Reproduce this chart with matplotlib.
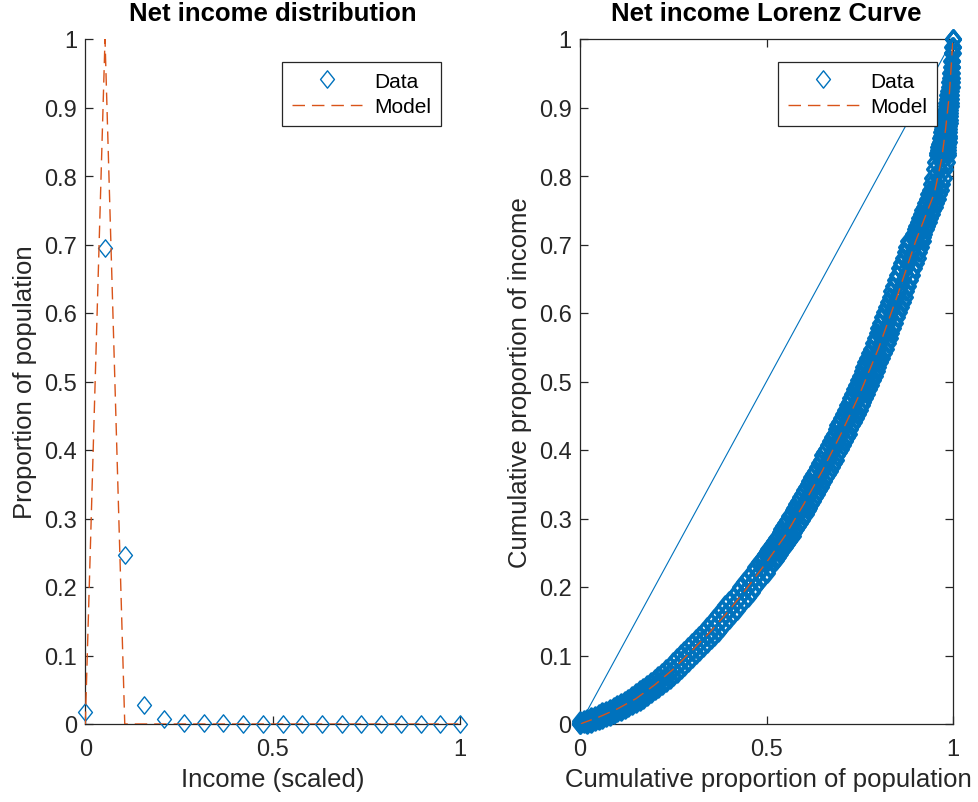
import matplotlib
matplotlib.use("Agg")
import matplotlib.pyplot as plt
from matplotlib.path import Path

plt.rcParams['font.family'] = ['Liberation Sans', 'DejaVu Sans']

# ---------------- data ----------------
# Income distribution (20 bins over scaled income)
income_x = [0.0, 0.0526, 0.1053, 0.1579, 0.2105, 0.2632, 0.3158, 0.3684, 0.4211, 0.4737,
            0.5263, 0.5789, 0.6316, 0.6842, 0.7368, 0.7895, 0.8421, 0.8947, 0.9474, 1.0]
pop_share_data = [0.017, 0.695, 0.246, 0.028, 0.007, 0.002, 0.001, 0.001, 0.0005, 0.0003,
                  0.0002, 0.0, 0.0, 0.0, 0.0, 0.0, 0.0, 0.0, 0.0, 0.0]
pop_share_model = [0.0, 1.0, 0.0, 0.0, 0.0, 0.0, 0.0, 0.0, 0.0, 0.0,
                   0.0, 0.0, 0.0, 0.0, 0.0, 0.0, 0.0, 0.0, 0.0, 0.0]

# Lorenz data: cumulative income share, observed for three population groupings
lorenz_income = [
    0.000, 0.002, 0.004, 0.006, 0.008, 0.010, 0.012, 0.014, 0.017, 0.019,
    0.022, 0.025, 0.028, 0.031, 0.034, 0.037, 0.041, 0.045, 0.049, 0.053,
    0.057, 0.061, 0.066, 0.070, 0.075, 0.080, 0.085, 0.091, 0.096, 0.102,
    0.107, 0.113, 0.118, 0.124, 0.129, 0.135, 0.141, 0.147, 0.153, 0.160,
    0.166, 0.173, 0.179, 0.186, 0.193, 0.200, 0.207, 0.214, 0.221, 0.229, 0.236,
    0.240, 0.244, 0.248, 0.252, 0.256, 0.259, 0.263, 0.267, 0.271, 0.275,
    0.280, 0.284, 0.289, 0.293, 0.298, 0.303, 0.307, 0.312, 0.316, 0.321,
    0.326, 0.331, 0.336, 0.341, 0.346, 0.350, 0.355, 0.360, 0.365, 0.370,
    0.375, 0.381, 0.386, 0.392, 0.397, 0.402, 0.408, 0.413, 0.419, 0.424,
    0.430, 0.436, 0.441, 0.447, 0.453, 0.459, 0.465, 0.470, 0.476, 0.482,
    0.489, 0.495, 0.502, 0.508, 0.515, 0.521, 0.528, 0.535, 0.541, 0.548,
    0.556, 0.563, 0.571, 0.578, 0.586, 0.594, 0.601, 0.609, 0.616, 0.624,
    0.632, 0.640, 0.648, 0.656, 0.665, 0.673, 0.681, 0.689, 0.697, 0.705,
    0.711, 0.716, 0.722, 0.727, 0.733, 0.739, 0.744, 0.750, 0.755, 0.761,
    0.767, 0.773, 0.780, 0.788, 0.797, 0.810, 0.821,
    0.830, 0.834, 0.838, 0.842, 0.846, 0.850, 0.855, 0.859, 0.864, 0.868,
    0.873, 0.878, 0.882, 0.887, 0.892, 0.897, 0.902, 0.907, 0.913, 0.918,
    0.924, 0.930, 0.937, 0.943, 0.950, 0.959, 0.968, 0.979, 0.989, 1.000,
]
lorenz_pop = [
    0.00, 0.01, 0.02, 0.03, 0.04, 0.05, 0.06, 0.07, 0.08, 0.09,
    0.10, 0.11, 0.12, 0.13, 0.14, 0.15, 0.16, 0.17, 0.18, 0.19,
    0.20, 0.21, 0.22, 0.23, 0.24, 0.25, 0.26, 0.27, 0.28, 0.29,
    0.30, 0.31, 0.32, 0.33, 0.34, 0.35, 0.36, 0.37, 0.38, 0.39,
    0.40, 0.41, 0.42, 0.43, 0.44, 0.45, 0.46, 0.47, 0.48, 0.49, 0.50,
    0.505, 0.510, 0.515, 0.520, 0.525, 0.530, 0.535, 0.540, 0.545, 0.550,
    0.555, 0.560, 0.565, 0.570, 0.575, 0.580, 0.585, 0.590, 0.595, 0.600,
    0.605, 0.610, 0.615, 0.620, 0.625, 0.630, 0.635, 0.640, 0.645, 0.650,
    0.655, 0.660, 0.665, 0.670, 0.675, 0.680, 0.685, 0.690, 0.695, 0.700,
    0.705, 0.710, 0.715, 0.720, 0.725, 0.730, 0.735, 0.740, 0.745, 0.750,
    0.755, 0.760, 0.765, 0.770, 0.775, 0.780, 0.785, 0.790, 0.795, 0.800,
    0.805, 0.810, 0.815, 0.820, 0.825, 0.830, 0.835, 0.840, 0.845, 0.850,
    0.855, 0.860, 0.865, 0.870, 0.875, 0.880, 0.885, 0.890, 0.895, 0.900,
    0.904, 0.908, 0.912, 0.916, 0.920, 0.924, 0.928, 0.932, 0.936, 0.940,
    0.944, 0.948, 0.952, 0.956, 0.960, 0.964, 0.968,
    0.971, 0.972, 0.973, 0.974, 0.975, 0.976, 0.977, 0.978, 0.979, 0.980,
    0.981, 0.982, 0.983, 0.984, 0.985, 0.986, 0.987, 0.988, 0.989, 0.990,
    0.991, 0.992, 0.993, 0.994, 0.995, 0.996, 0.997, 0.998, 0.999, 1.000,
]
lorenz_pop_low = [
    0.00, 0.00, 0.00, 0.01, 0.02, 0.03, 0.04, 0.05, 0.06, 0.07,
    0.08, 0.09, 0.10, 0.11, 0.12, 0.13, 0.14, 0.15, 0.16, 0.17,
    0.18, 0.19, 0.20, 0.21, 0.22, 0.23, 0.24, 0.25, 0.26, 0.27,
    0.28, 0.29, 0.30, 0.31, 0.32, 0.33, 0.34, 0.35, 0.36, 0.37,
    0.38, 0.39, 0.40, 0.41, 0.42, 0.43, 0.44, 0.45, 0.46, 0.47, 0.48,
    0.485, 0.490, 0.495, 0.500, 0.505, 0.510, 0.515, 0.520, 0.525, 0.530,
    0.535, 0.540, 0.545, 0.550, 0.555, 0.560, 0.565, 0.570, 0.575, 0.580,
    0.585, 0.590, 0.595, 0.600, 0.605, 0.610, 0.615, 0.620, 0.625, 0.630,
    0.635, 0.640, 0.645, 0.650, 0.655, 0.660, 0.665, 0.670, 0.675, 0.680,
    0.685, 0.690, 0.695, 0.700, 0.705, 0.710, 0.715, 0.720, 0.725, 0.730,
    0.735, 0.740, 0.745, 0.750, 0.755, 0.760, 0.765, 0.770, 0.775, 0.780,
    0.785, 0.790, 0.795, 0.800, 0.805, 0.810, 0.815, 0.820, 0.825, 0.830,
    0.835, 0.840, 0.845, 0.850, 0.855, 0.860, 0.865, 0.870, 0.875, 0.880,
    0.889, 0.893, 0.897, 0.901, 0.905, 0.909, 0.913, 0.917, 0.921, 0.925,
    0.929, 0.933, 0.937, 0.941, 0.945, 0.949, 0.953,
    0.9565, 0.958, 0.9595, 0.961, 0.9625, 0.964, 0.9655, 0.967, 0.9685, 0.970,
    0.9715, 0.973, 0.9745, 0.976, 0.9775, 0.979, 0.9805, 0.982, 0.9835, 0.985,
    0.9865, 0.988, 0.9895, 0.991, 0.9925, 0.994, 0.9955, 0.997, 0.9985, 1.000,
]
lorenz_pop_high = [
    0.02, 0.03, 0.04, 0.05, 0.06, 0.07, 0.08, 0.09, 0.10, 0.11,
    0.12, 0.13, 0.14, 0.15, 0.16, 0.17, 0.18, 0.19, 0.20, 0.21,
    0.22, 0.23, 0.24, 0.25, 0.26, 0.27, 0.28, 0.29, 0.30, 0.31,
    0.32, 0.33, 0.34, 0.35, 0.36, 0.37, 0.38, 0.39, 0.40, 0.41,
    0.42, 0.43, 0.44, 0.45, 0.46, 0.47, 0.48, 0.49, 0.50, 0.51, 0.52,
    0.525, 0.530, 0.535, 0.540, 0.545, 0.550, 0.555, 0.560, 0.565, 0.570,
    0.575, 0.580, 0.585, 0.590, 0.595, 0.600, 0.605, 0.610, 0.615, 0.620,
    0.625, 0.630, 0.635, 0.640, 0.645, 0.650, 0.655, 0.660, 0.665, 0.670,
    0.675, 0.680, 0.685, 0.690, 0.695, 0.700, 0.705, 0.710, 0.715, 0.720,
    0.725, 0.730, 0.735, 0.740, 0.745, 0.750, 0.755, 0.760, 0.765, 0.770,
    0.775, 0.780, 0.785, 0.790, 0.795, 0.800, 0.805, 0.810, 0.815, 0.820,
    0.825, 0.830, 0.835, 0.840, 0.845, 0.850, 0.855, 0.860, 0.865, 0.870,
    0.875, 0.880, 0.885, 0.890, 0.895, 0.900, 0.905, 0.910, 0.915, 0.920,
    0.919, 0.923, 0.927, 0.931, 0.935, 0.939, 0.943, 0.947, 0.951, 0.955,
    0.959, 0.963, 0.967, 0.971, 0.975, 0.979, 0.983,
    0.9855, 0.986, 0.9865, 0.987, 0.9875, 0.988, 0.9885, 0.989, 0.9895, 0.990,
    0.9905, 0.991, 0.9915, 0.992, 0.9925, 0.993, 0.9935, 0.994, 0.9945, 0.995,
    0.9955, 0.996, 0.9965, 0.997, 0.9975, 0.998, 0.9985, 0.999, 0.9995, 1.000,
]

# Fitted Lorenz curve
model_pop = [0.0, 0.05, 0.10, 0.15, 0.20, 0.25, 0.30, 0.35, 0.40, 0.45, 0.50,
             0.55, 0.60, 0.65, 0.70, 0.75, 0.80, 0.85, 0.90, 0.925, 0.95,
             0.97, 0.98, 0.99, 1.0]
model_income = [0.0, 0.010, 0.022, 0.037, 0.057, 0.080, 0.107, 0.135, 0.166, 0.200, 0.236,
                0.275, 0.321, 0.370, 0.424, 0.482, 0.548, 0.624, 0.705, 0.740, 0.775,
                0.826, 0.868, 0.918, 1.0]

equality_line = [0.0, 1.0]

unit_ticks_x = [0, 0.5, 1]
unit_ticks_y = [0, 0.1, 0.2, 0.3, 0.4, 0.5, 0.6, 0.7, 0.8, 0.9, 1]
tick_labels_x = ['0', '0.5', '1']
tick_labels_y = ['0', '0.1', '0.2', '0.3', '0.4', '0.5', '0.6', '0.7', '0.8', '0.9', '1']

# ---------------- style ----------------
BLUE = '#0072BD'
ORANGE = '#D95319'
AXCOL = '#262626'
DASH = (0, (9, 5))
diamond = Path([(0, 1), (0.8, 0), (0, -1), (-0.8, 0), (0, 1)],
               [Path.MOVETO, Path.LINETO, Path.LINETO, Path.LINETO, Path.CLOSEPOLY])
marker_kw = dict(linestyle='none', marker=diamond, markersize=12.5,
                 markerfacecolor='none', markeredgecolor=BLUE, markeredgewidth=1.0,
                 clip_on=False, zorder=3)
band_kw = dict(marker_kw, markeredgewidth=2.3)
legend_kw = dict(loc='upper right', borderaxespad=0, fontsize=15, frameon=True,
                 fancybox=False, framealpha=1, edgecolor=AXCOL, handlelength=3.4,
                 handletextpad=0.58, borderpad=0.45, labelspacing=0.32)

W, H = 979, 803
fig = plt.figure(figsize=(W / 100, H / 100), dpi=100)

def px_axes(x0, x1, y_top, y_bot):
    return fig.add_axes([x0 / W, (H - y_bot) / H, (x1 - x0) / W, (y_bot - y_top) / H])

def style_axes(ax, box):
    ax.set_xlim(0, 1)
    ax.set_ylim(0, 1)
    ax.set_xticks(unit_ticks_x)
    ax.set_xticklabels(tick_labels_x)
    ax.set_yticks(unit_ticks_y)
    ax.set_yticklabels(tick_labels_y)
    ax.tick_params(direction='in', length=6, width=0.9, colors=AXCOL,
                   labelsize=17, top=box, right=box)
    ax.tick_params(axis='x', pad=10)
    ax.tick_params(axis='y', pad=6)
    for s in ax.spines.values():
        s.set_color(AXCOL)
        s.set_linewidth(0.9)
    if not box:
        ax.spines['top'].set_visible(False)
        ax.spines['right'].set_visible(False)

# ---------------- left: distribution ----------------
ax1 = px_axes(85.3, 460, 40, 725)
style_axes(ax1, box=False)
ax1.plot(income_x, pop_share_data, label='Data', **marker_kw)
ax1.plot(income_x, pop_share_model, linestyle=DASH, color=ORANGE, linewidth=1.0,
         label='Model', zorder=4)
ax1.set_title('Net income distribution', fontsize=18.5, fontweight='bold', color='black',
              y=1.026, va='center')
ax1.set_xlabel('Income (scaled)', fontsize=18.5, color=AXCOL, va='center')
ax1.xaxis.set_label_coords(0.5, -0.080)
ax1.set_ylabel('Proportion of population', fontsize=18.5, color=AXCOL, va='center')
ax1.yaxis.set_label_coords(-0.160, 0.5)
leg1 = ax1.legend(bbox_to_anchor=(0.949, 0.966), **legend_kw)
leg1.get_frame().set_linewidth(0.9)

# ---------------- right: Lorenz curve ----------------
ax2 = px_axes(580, 953, 40, 725)
style_axes(ax2, box=True)
ax2.plot(lorenz_pop, lorenz_income, label='Data', **band_kw)
ax2.plot(lorenz_pop_low, lorenz_income, **band_kw)
ax2.plot(lorenz_pop_high, lorenz_income, **band_kw)
ax2.plot(model_pop, model_income, linestyle=DASH, color=ORANGE, linewidth=1.0,
         label='Model', zorder=4)
ax2.plot(equality_line, equality_line, color=BLUE, linewidth=0.8, zorder=5)
ax2.set_title('Net income Lorenz Curve', fontsize=18.5, fontweight='bold', color='black',
              y=1.026, va='center')
ax2.set_xlabel('Cumulative proportion of population', fontsize=18.5, color=AXCOL, va='center')
ax2.xaxis.set_label_coords(0.504, -0.080)
ax2.set_ylabel('Cumulative proportion of income', fontsize=18.5, color=AXCOL, va='center')
ax2.yaxis.set_label_coords(-0.160, 0.5)
leg2 = ax2.legend(bbox_to_anchor=(0.957, 0.966), **legend_kw)
leg2.get_frame().set_linewidth(0.9)
# legend marker keeps the thin outline
for h in leg2.legend_handles:
    h.set_markeredgewidth(1.0)

fig.savefig('out.png', dpi=100, facecolor='white')
